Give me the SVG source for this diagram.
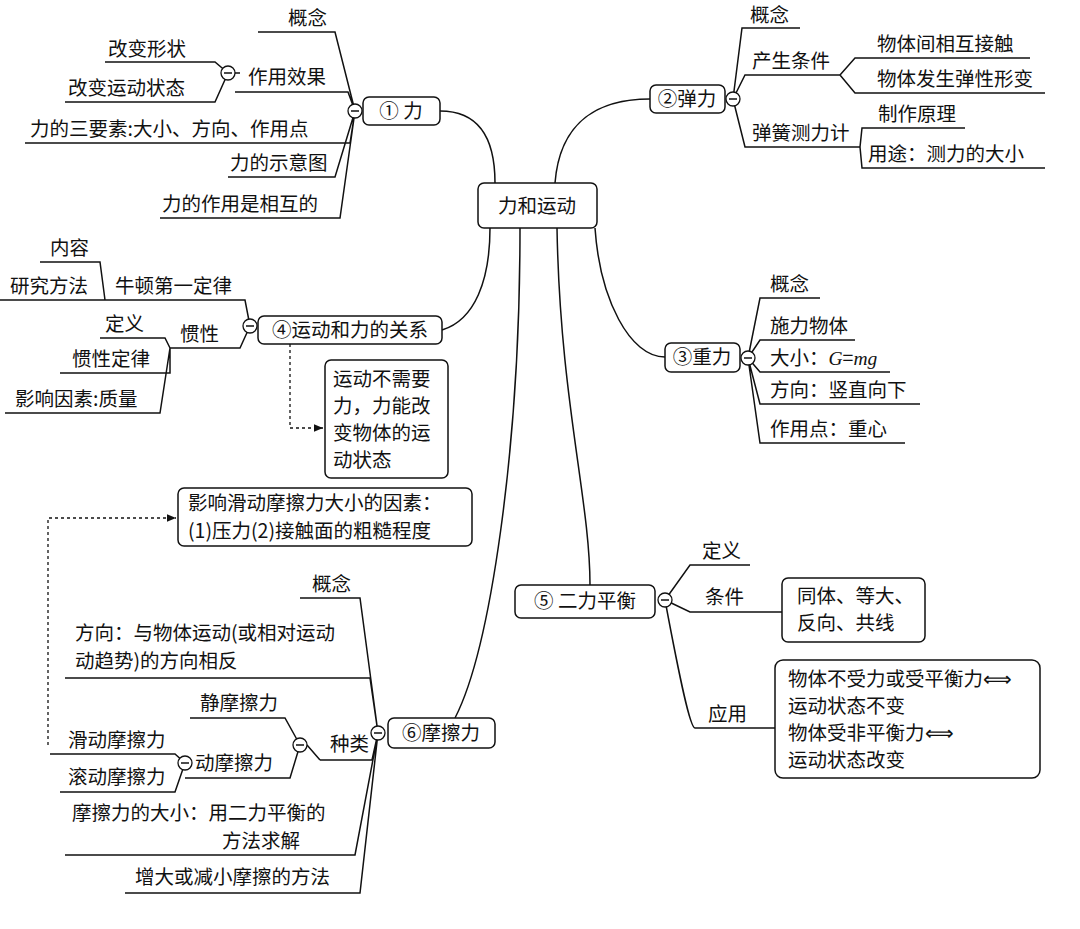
<svg xmlns="http://www.w3.org/2000/svg" width="1080" height="929" viewBox="0 0 1080 929">
<style>
text{font-family:"Noto Sans CJK SC","Liberation Sans",sans-serif;font-size:19.5px;fill:#111}
.l{stroke:#111;stroke-width:1.5;fill:none}
.b{fill:#fff;stroke:#111;stroke-width:1.5}
.d{stroke:#111;stroke-width:1.3;fill:none;stroke-dasharray:3,3}
</style>
<defs>
<marker id="a" markerWidth="8" markerHeight="8" refX="7" refY="4" orient="auto"><path d="M0,1 L7,4 L0,7z" fill="#111"/></marker>
<g id="m"><circle r="7" fill="#fff" stroke="#111" stroke-width="1.3"/><line x1="-4" x2="4" stroke="#111" stroke-width="1.5"/></g>
</defs>
<g id="connectors">
<path class="l" d="M440,111 C480,111 495,140 495,183"/>
<path class="l" d="M555,183 C560,120 600,99 650,99"/>
<path class="l" d="M595,228 C600,300 630,357 665,357"/>
<path class="l" d="M442,330 C475,320 490,280 490,228"/>
<path class="l" d="M557,228 C560,400 590,500 590,585"/>
<path class="l" d="M520,228 C520,450 490,650 455,718"/>
<path class="l" d="M258,32 H335 L355,111 M235,92 H348 L355,111 M25,143 H350 L355,111 M228,177 H335 L355,111 M160,218 H340 L355,111"/>
<path class="l" d="M105,62 H215 L228,73 M65,102 H215 L228,73 M235,73 H240"/>
<path class="l" d="M733,99 L742,28 H800 M733,99 L745,75 H840 M733,99 L745,147 H860"/>
<path class="l" d="M840,75 L855,58 H1030 M840,75 L855,93 H1045 M860,147 L862,128 H965 M860,147 L862,168 H1045"/>
<path class="l" d="M748,358 L760,298 H820 M748,358 L760,340 H855 M748,358 L760,372 H890 M748,358 L760,404 H920 M748,358 L760,443 H905"/>
<path class="l" d="M250,326 L245,300 H105 M105,300 L100,262 H40 M105,300 H0 M250,326 L240,348 H170 M170,348 L165,338 H100 M170,348 V373 H60 M170,348 L160,413 H5"/>
<path class="d" d="M290,344 V428 H323" marker-end="url(#a)"/>
<path class="l" d="M665,600 L690,565 H750 M665,600 L690,612 H765 M765,612 L782,612 M665,600 C680,680 690,728 695,728 H765 M765,728 L775,728"/>
<path class="l" d="M378,733 L360,598 H300 M378,733 L370,678 H65 M378,733 L372,760 H320 M378,733 L355,855 H65 M378,733 L360,893 H125"/>
<path class="l" d="M300,745 L285,718 H190 M300,745 L290,778 H185 M320,760 L307,745"/>
<path class="l" d="M185,763 L175,754 H50 M185,763 L175,792 H60"/>
<path class="d" d="M48,745 V518 H176" marker-end="url(#a)"/>
</g>
<g id="center"><rect class="b" x="478" y="183" width="119" height="45" rx="6"/><text x="537" y="213" text-anchor="middle" font-size="21">力和运动</text></g>
<g id="n1"><rect class="b" x="363" y="97" width="77" height="28" rx="6"/><text x="401" y="118" text-anchor="middle">① 力</text><use href="#m" x="355" y="111"/>
<text x="288" y="25">概念</text><text x="248" y="84">作用效果</text><use href="#m" x="228" y="73"/><text x="108" y="56">改变形状</text><text x="68" y="95">改变运动状态</text><text x="30" y="136">力的三要素:大小、方向、作用点</text><text x="230" y="170">力的示意图</text><text x="162" y="211">力的作用是相互的</text></g>
<g id="n2"><rect class="b" x="650" y="85" width="75" height="28" rx="6"/><text x="687" y="106" text-anchor="middle">②弹力</text><use href="#m" x="733" y="99"/>
<text x="750" y="22">概念</text><text x="752" y="68">产生条件</text><text x="877" y="51">物体间相互接触</text><text x="877" y="86">物体发生弹性形变</text><text x="752" y="140">弹簧测力计</text><text x="878" y="121">制作原理</text><text x="868" y="161">用途：测力的大小</text></g>
<g id="n3"><rect class="b" x="665" y="343" width="75" height="29" rx="6"/><text x="702" y="364" text-anchor="middle">③重力</text><use href="#m" x="748" y="358"/>
<text x="770" y="291">概念</text><text x="770" y="333">施力物体</text><text x="770" y="365">大小：<tspan font-family="Liberation Serif,serif" font-style="italic">G</tspan>=<tspan font-family="Liberation Serif,serif" font-style="italic">mg</tspan></text><text x="770" y="397">方向：竖直向下</text><text x="770" y="436">作用点：重心</text></g>
<g id="n4"><rect class="b" x="258" y="316" width="184" height="28" rx="6"/><text x="350" y="337" text-anchor="middle">④运动和力的关系</text><use href="#m" x="250" y="326"/>
<text x="115" y="293">牛顿第一定律</text><text x="50" y="255">内容</text><text x="10" y="293">研究方法</text><text x="180" y="341">惯性</text><text x="105" y="331">定义</text><text x="72" y="366">惯性定律</text><text x="15" y="406">影响因素:质量</text>
<rect class="b" x="325" y="360" width="123" height="118" rx="6"/><text x="333" y="386">运动不需要</text><text x="333" y="413">力，力能改</text><text x="333" y="440">变物体的运</text><text x="333" y="467">动状态</text></g>
<g id="n5"><rect class="b" x="515" y="585" width="140" height="33" rx="6"/><text x="585" y="608" text-anchor="middle">⑤ 二力平衡</text><use href="#m" x="665" y="600"/>
<text x="702" y="558">定义</text><text x="705" y="604">条件</text><rect class="b" x="782" y="578" width="143" height="64" rx="6"/><text x="797" y="603">同体、等大、</text><text x="797" y="630">反向、共线</text>
<text x="708" y="721">应用</text><rect class="b" x="775" y="660" width="265" height="118" rx="8"/><text x="788" y="686">物体不受力或受平衡力⟺</text><text x="788" y="713">运动状态不变</text><text x="788" y="740">物体受非平衡力⟺</text><text x="788" y="767">运动状态改变</text></g>
<g id="note"><rect class="b" x="178" y="488" width="294" height="58" rx="6"/><text x="188" y="510">影响滑动摩擦力大小的因素：</text><text x="188" y="538">(1)压力(2)接触面的粗糙程度</text></g>
<g id="n6"><rect class="b" x="388" y="718" width="107" height="30" rx="6"/><text x="441" y="740" text-anchor="middle">⑥摩擦力</text><use href="#m" x="378" y="733"/>
<text x="312" y="591">概念</text><text x="75" y="640">方向：与物体运动(或相对运动</text><text x="75" y="668">动趋势)的方向相反</text><text x="330" y="751">种类</text><use href="#m" x="300" y="745"/><text x="200" y="710">静摩擦力</text><text x="195" y="770">动摩擦力</text><use href="#m" x="185" y="763"/><text x="68" y="747">滑动摩擦力</text><text x="68" y="784">滚动摩擦力</text><text x="72" y="820">摩擦力的大小：用二力平衡的</text><text x="222" y="848">方法求解</text><text x="135" y="884">增大或减小摩擦的方法</text></g>
</svg>
